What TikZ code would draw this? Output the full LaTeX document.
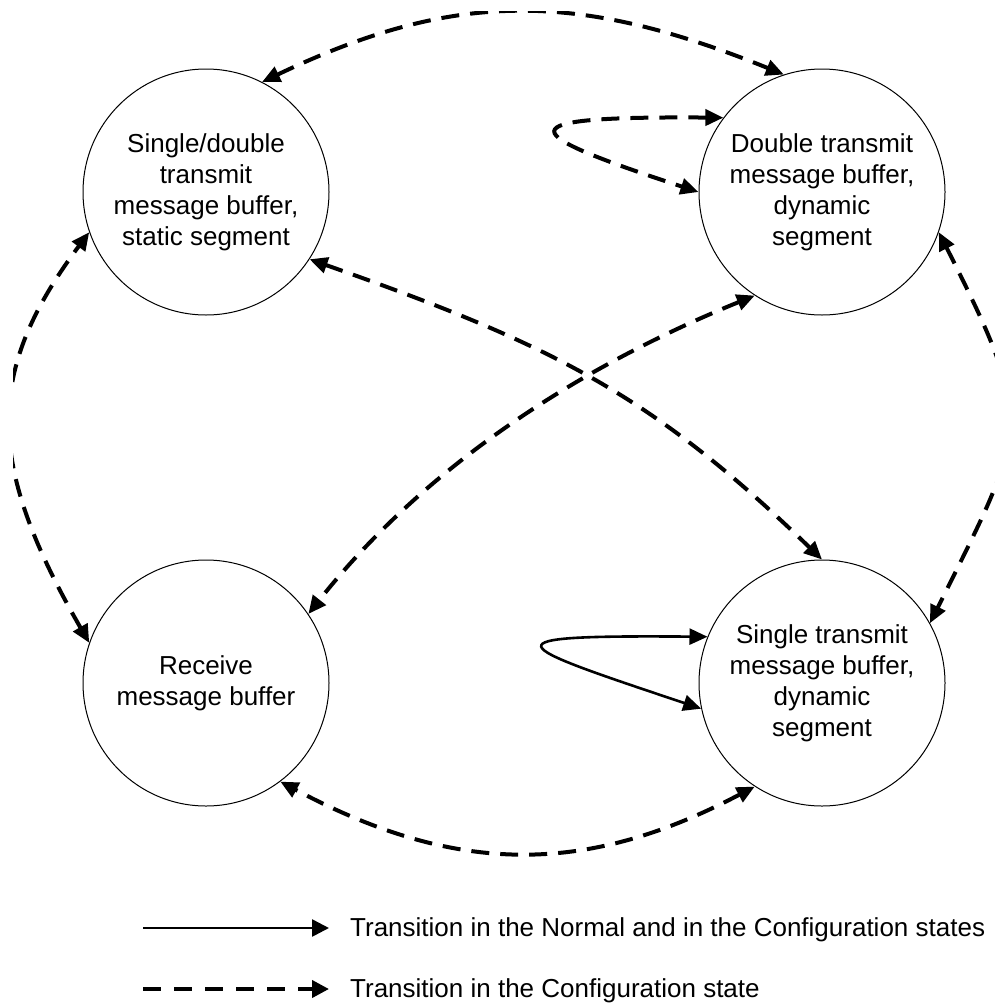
\documentclass[tikz,border=0pt]{standalone}
\usepackage{fontspec}
\setmainfont{Liberation Sans}
\usepackage{tikz}
\usetikzlibrary{arrows.meta}
\tikzstyle{buffer} = [circle, draw, line width=1pt, minimum size=246pt, inner sep=0pt, align=center, font=\fontsize{26}{31}\selectfont]
\tikzstyle{cfg} = [line width=4pt, dash pattern=on 18pt off 11pt, >={Triangle[length=18pt,width=16pt]}, <->]
\tikzstyle{both} = [line width=2.6pt, >={Triangle[length=18pt,width=16pt]}, <->]
\tikzstyle{legend} = [anchor=base west, inner sep=0pt, font=\fontsize{26}{31}\selectfont]

\begin{document}
\begin{tikzpicture}[x=1pt, y=-1pt]
\useasboundingbox (0,0) rectangle (995,1004);

% Buffer states
\node[buffer] (sdstatic) at (206,192) {Single/double\\transmit\\message buffer,\\static segment};
\node[buffer] (dtdyn) at (822,192) {Double transmit\\message buffer,\\dynamic\\segment};
\node[buffer] (recv) at (206,683) {Receive\\message buffer};
\node[buffer] (stdyn) at (822,683) {Single transmit\\message buffer,\\dynamic\\segment};

\begin{scope}
% Drawing area ends a little inside the page
\clip (13,11) rectangle (995,1004);

% Outer ring
\draw[cfg] (sdstatic.63) .. controls (453,-9) and (575,-10) .. (dtdyn.108);
\draw[cfg] (dtdyn.341) .. controls (1037,427) and (1027,428) .. (stdyn.29);
\draw[cfg] (stdyn.237) .. controls (583,877) and (454,874) .. (recv.307);
\draw[cfg] (recv.161) .. controls (-15,462) and (-15,372) .. (sdstatic.199);

% Diagonals
\draw[cfg] (sdstatic.327) .. controls (550,344) and (650,393) .. (stdyn.90);
\draw[cfg] (dtdyn.237) .. controls (552,378) and (410,485) .. (recv.34);

% Self loops
\draw[cfg] (dtdyn.143) .. controls (500,116) and (515,132) .. (dtdyn.180);
\draw[both] (stdyn.158) .. controls (480,635) and (505,643) .. (stdyn.192);
\end{scope}

% Legend
\coordinate (solidA) at (143,928);
\coordinate (solidB) at (329,928);
\coordinate (dashA) at (143,989);
\coordinate (dashB) at (329,989);
\draw[both, -{Triangle[length=17pt,width=17pt]}] (solidA) -- (solidB);
\draw[cfg, dash pattern=on 18pt off 13pt, -{Triangle[length=17pt,width=17pt]}] (dashA) -- (dashB);
\node[legend] (solidtext) at (350,936) {Transition in the Normal and in the Configuration states};
\node[legend] (dashtext) at (350,997) {Transition in the Configuration state};
\end{tikzpicture}
\end{document}
